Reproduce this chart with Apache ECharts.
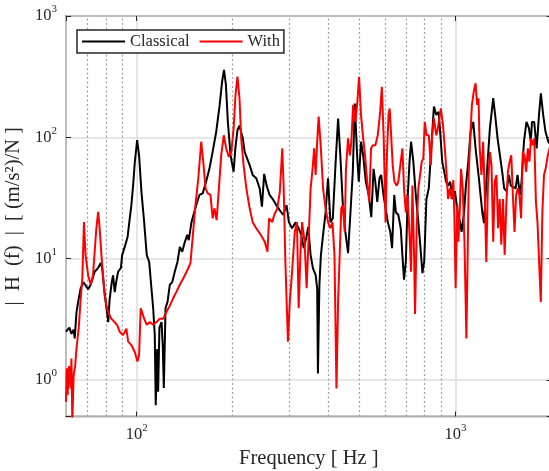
<!DOCTYPE html>
<html><head><meta charset="utf-8">
<script src="https://cdn.jsdelivr.net/npm/echarts@6/dist/echarts.min.js"></script>
<style>html,body{margin:0;padding:0;background:#fff}#c{width:549px;height:471px}</style>
</head><body><div id="c"></div>
<script>
// ---- data ----
const classicalFreq = [60,61.5,62.4,63.4,63.9,64.7,65.5,66.7,68.1,68.9,70.4,71.7,73.8,75.7,77.1,77.9,79.0,80.4,81.4,82.2,83.5,84.3,85.3,86.2,87.4,89.2,90,91.7,93.6,95.1,96.2,97.4,98.6,100.3,101.7,103.5,105.5,107.5,109.4,111.2,112.6,113.9,114.7,115.9,116.7,117.8,119.6,120.7,121.6,123.1,124.9,127,129.2,131.6,134.2,136.5,138.9,141.5,144,145.6,148.5,153.6,157.3,161,165,169,173,177.5,182,185.2,187.8,190.4,193.1,196.9,201.3,203.8,207,210,212.6,215,218,226,231,237,243,247,251,255.5,261,267,274,281,288,295,300,307,315,322,328,334,340,345,351,357,364,368,370,374,378,384,391,398,405,412,420,428,435,443,451,460,468,476,483,491,497,505,513,523,534,544,553,560,568,577,584,594,606,613,624,632,642,650,661,673,681,689,698,708,717,725,737,750,764,776,787,797,810,824,836,855,870,885,899,908,934,946,962,979,995,1015,1033,1044,1063,1077,1096,1114,1136,1155,1183,1197,1213,1228,1242,1260,1281,1312,1334,1354,1377,1400,1420,1445,1469,1490,1515,1542,1564,1590,1610,1638,1668,1698,1721,1736,1764,1795,1826,1851,1882,1914,1953,2000];
const classicalMag = [2.5,2.7,2.4,2.6,2.2,3.6,4.4,5.7,6.4,6.1,5.6,6.1,7.8,8.4,9.2,8.4,5.7,3.9,3.0,4.6,6.4,7.3,5.3,6.4,7.8,8.4,10.7,12.5,15.1,21.6,27.6,40,62,95,71,35,20,10.7,9.4,5.7,3.9,2.35,0.62,1.8,0.8,2.7,3.0,1.9,0.86,3.9,4.4,6.1,6.4,7.8,9.4,12.5,11.4,13.7,15.7,14.2,20,27.6,33.5,34.5,43,55,76,111,185,287,360,270,134,71,52,81,115,125,110,99,76,59,49,46,38,26.8,50,40,33.5,31,27.6,25,23,27.6,20,17.8,20,17.8,15.7,12.2,14.8,18.3,10.7,8.3,7.3,5.7,1.13,6.1,10.7,15.7,24,46,20,21.5,59,143,71,27.6,16.6,11.1,24,52,190,71,43,92,71,43,33.5,22,55,43,29.4,46,49,33.5,24,20,16.6,12.2,33.5,24,23,17.8,10.7,6.7,9.4,33.5,63,92,63,33.5,20,12.2,7.6,9.4,31,38,71,179,153,162,92,63,43,40,43,31,36,24,20,16.6,24,40,63,111,134,81,46,33.5,24,19.6,33.5,63,119,210,143,98,71,52,38,36,49,40,39,38,49,33.5,43,92,134,119,92,134,134,81,153,230,153,111,92,85];
const withFreq = [60,60.3,60.7,61.3,62,62.4,62.8,63.4,64.1,64.7,65.8,66.6,67.5,68.3,69.1,70.4,71.7,72.9,73.8,74.7,75.7,76.5,77.5,78.4,79.3,80.3,81.3,83.2,85.3,87,88.4,90.6,92.8,94,96.2,98.6,100.5,101.7,102.9,104.2,105.5,107.5,109.9,112.6,115.3,118,121,124,127,130,133,136.5,140,143.3,146.7,147.5,150,152.8,156,159.3,162,164.4,167,170.3,173,175.3,178,181,184,187.5,190.8,194.5,198,201.3,204,207,210,212.6,216.3,220.7,226,231,237,245,252,257,260,263,266,270,276,281,286,289,292.5,298,302,307,313,318,322,326,330,336,341,346,351,356,360,364,368,372,378,384,391,398,405,411,417,423,428,433,438,443,449,453,460,466,471,477,485,492,498,505,513,520,528,536,543,550,560,570,580,587,595,603,609,616,621,627,635,643,654,661,673,681,689,698,706,714,725,732,741,746,756,764,774,783,792,800,811,824,836,844,855,870,880,899,913,925,936,947,960,972,984,991,1000,1012,1020,1030,1040,1053,1066,1081,1091,1100,1114,1125,1140,1155,1168,1180,1190,1205,1220,1233,1248,1262,1281,1296,1312,1327,1343,1359,1375,1391,1408,1425,1442,1459,1477,1495,1512,1530,1548,1566,1585,1605,1624,1645,1665,1684,1704,1724,1745,1765,1786,1806,1828,1850,1871,1893,1915,1946,2000];
const withMag = [0.66,1.25,0.75,1.3,0.85,1.5,0.45,1.1,1.3,1.8,2.7,4.4,6.9,20,10.7,7.3,6.1,7.3,11.4,17.8,24.3,17.8,10.7,7.3,5.0,4.1,3.65,3.2,3.0,2.8,2.5,2.35,2.65,2.07,1.94,1.7,1.42,1.6,3.9,3.9,3.2,2.85,3.0,2.85,3.0,3.2,3.2,3.65,4.1,4.7,5.3,6.1,6.9,7.8,8.9,9.4,15.7,27.6,46,92,59,38,34.5,33.5,21.5,26,20.8,38,71,104,81,69,76,119,223,316,210,98,59,38,26,20,17.8,15.7,13.8,11.4,21.5,22,20,23,26,35.6,81,38,9.4,2.07,4.4,7.8,16.6,20,3.9,10.7,20,13.8,5.7,14.7,38,55,81,49,92,148,81,38,26,20,17.8,20,10.7,0.85,4.4,4.4,26,27.6,16.6,55,98,71,92,185,134,197,316,153,98,71,43,29.4,81,86,86,104,162,261,98,20,71,153,173,111,59,43,40,43,63,81,38,24,33.5,20,7.8,40,10.7,3.5,20,38,49,63,67,134,104,104,59,104,143,104,119,173,126,81,52,31,38,31,44.5,23,5.7,27.6,13.8,24,55,38,13.8,2.2,10.7,52,111,185,238,279,185,210,81,49,92,38,9.4,38,76,59,13.8,43,49,17.8,31,13,31,10.7,27.6,52,63,71,33.5,16.6,33.5,38,33.5,21.5,76,71,52,81,63,98,86,98,29.4,20,20,4.4,24,49,55,71,95];
const minorGridFreq = [70,80,90,200,300,400,500,600,700,800,900];
const xRange = [60, 2000];
const yRange = [0.5, 1000];
const seriesNames = ['Classical', 'With'];
const xTitle = 'Frequency [ Hz ]';
const yTitle = '|\u2002H\u2002(f)\u2002|\u2002[ (m/s²)/N ]';

// ---- chart ----
const FONT = '"Liberation Serif", "Times New Roman", serif';
const AX = '#262626';
function pow10Label(v) {
  const e = Math.log10(v), r = Math.round(e);
  if (Math.abs(e - r) > 1e-6) return '';
  return '{b|10}{s|' + r + '}';
}
const labelRich = {
  b: {fontFamily: FONT, fontSize: 16.5, color: AX, lineHeight: 24},
  s: {fontFamily: FONT, fontSize: 11, color: AX, lineHeight: 11, verticalAlign: 'top'}
};
const chart = echarts.init(document.getElementById('c'), null, {renderer: 'canvas'});
const option = {
  animation: false,
  backgroundColor: '#fff',
  grid: {left: 66, top: 16, width: 485.6, height: 400.5, show: true, borderColor: AX, borderWidth: 1.5,
         containLabel: false, outerBoundsMode: 'none'},
  legend: {
    left: 77, top: 30, orient: 'horizontal', icon: 'rect', itemWidth: 43, itemHeight: 2, itemGap: 10,
    padding: [3, 4, 3, 5], borderColor: AX, borderWidth: 1.5, backgroundColor: '#fff',
    textStyle: {fontFamily: FONT, fontSize: 16.5, color: AX, lineHeight: 17},
    data: seriesNames
  },
  xAxis: [{
    type: 'log', logBase: 10, min: xRange[0], max: xRange[1],
    name: xTitle, nameLocation: 'middle', nameGap: 30,
    nameTextStyle: {fontFamily: FONT, fontSize: 20.5, color: AX},
    axisLine: {show: false},
    axisTick: {show: true, inside: true, length: 5, lineStyle: {color: AX, width: 1}},
    axisLabel: {formatter: pow10Label, margin: 6, rich: labelRich, showMinLabel: false, showMaxLabel: false},
    splitLine: {show: true, lineStyle: {color: '#dedede', width: 1.5}}
  }, {
    type: 'log', logBase: 10, min: xRange[0], max: xRange[1], position: 'top',
    axisLine: {show: false}, axisLabel: {show: false}, splitLine: {show: false},
    axisTick: {show: true, inside: true, length: 5, lineStyle: {color: AX, width: 1}}
  }],
  yAxis: [{
    type: 'log', logBase: 10, min: yRange[0], max: yRange[1],
    name: yTitle, nameLocation: 'middle', nameGap: 38, nameRotate: 90,
    nameTextStyle: {fontFamily: FONT, fontSize: 20.5, color: AX},
    axisLine: {show: false},
    axisTick: {show: true, inside: true, length: 5, lineStyle: {color: AX, width: 1}},
    axisLabel: {formatter: pow10Label, margin: 9, rich: labelRich},
    splitLine: {show: true, lineStyle: {color: '#dedede', width: 1.5}}
  }, {
    type: 'log', logBase: 10, min: yRange[0], max: yRange[1], position: 'right',
    axisLine: {show: false}, axisLabel: {show: false}, splitLine: {show: false},
    axisTick: {show: true, inside: true, length: 5, lineStyle: {color: AX, width: 1}}
  }],
  series: [{
    name: seriesNames[0], type: 'line', xAxisIndex: 0, yAxisIndex: 0,
    data: classicalFreq.map((f, i) => [f, classicalMag[i]]),
    symbol: 'none', showSymbol: false, clip: true,
    lineStyle: {color: '#000', width: 2}, itemStyle: {color: '#000'},
    markLine: {
      silent: true, symbol: ['none', 'none'], label: {show: false}, z: 1, animation: false,
      lineStyle: {color: '#a0a0a0', type: [2, 2.5], width: 1.2},
      emphasis: {disabled: true},
      data: minorGridFreq.map(f => ({xAxis: f}))
    }
  }, {
    name: seriesNames[1], type: 'line', xAxisIndex: 0, yAxisIndex: 0,
    data: withFreq.map((f, i) => [f, withMag[i]]),
    symbol: 'none', showSymbol: false, clip: true,
    lineStyle: {color: '#ff0000', width: 2}, itemStyle: {color: '#ff0000'}
  }]
};
chart.setOption(option);
</script>
</body></html>
